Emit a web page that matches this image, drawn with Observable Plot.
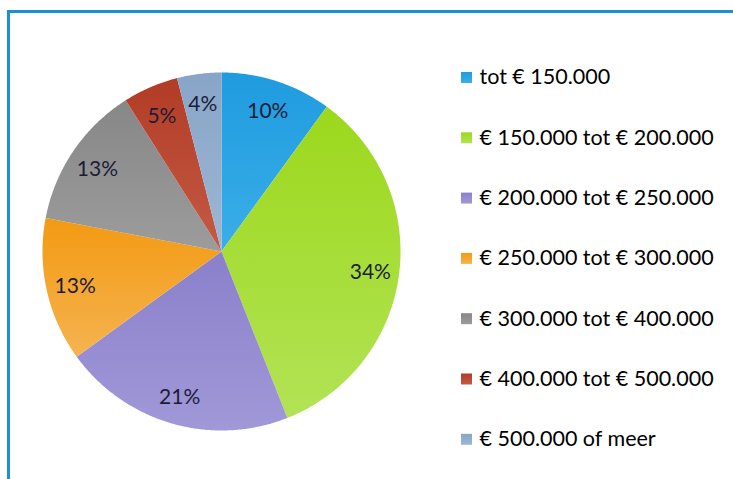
<!DOCTYPE html>
<html>
<head>
<meta charset="utf-8">
<script src="https://cdn.jsdelivr.net/npm/d3@7"></script>
<script src="https://cdn.jsdelivr.net/npm/@observablehq/plot@0.6"></script>
<style>
  html, body { margin: 0; padding: 0; background: #fff; overflow: hidden; }
  #wrap { position: relative; width: 733px; height: 479px; }
  #frame { position: absolute; left: 7px; top: 10px; width: 800px; height: 600px;
           border-left: 3px solid #1B8FD8; border-top: 3px solid #1B8FD8; box-sizing: border-box; pointer-events: none; }
  #chart { position: absolute; left: 0; top: 0; }
</style>
</head>
<body>
<div id="wrap"><div id="chart"></div><div id="frame"></div></div>
<script>
// ---- data ----
const categories = [
  "tot € 150.000",
  "€ 150.000 tot € 200.000",
  "€ 200.000 tot € 250.000",
  "€ 250.000 tot € 300.000",
  "€ 300.000 tot € 400.000",
  "€ 400.000 tot € 500.000",
  "€ 500.000 of meer"
];
const shares = [10, 34, 21, 13, 13, 5, 4];
const labels = ["10%", "34%", "21%", "13%", "13%", "5%", "4%"];
const topColors = ["#1F9BDF", "#9CD81C", "#8A80CB", "#F39A12", "#878787", "#B23C25", "#88A5C8"];
const bottomColors = ["#3AAEE8", "#B2E355", "#A198D8", "#F5B350", "#9C9C9C", "#C45A45", "#9DB6D3"];

// ---- layout ----
const W = 733, H = 479;
const cx = 221, cy = 251, R = 179, labelR = 150;
const legendX = 466, legendTextX = 479, legendY0 = 77, legendStep = 60.3;

const pie = d3.pie().sort(null).value(d => d.value)(categories.map((c, i) => ({name: c, value: shares[i], label: labels[i]})));

const wedgePts = [];
pie.forEach(p => {
  const n = Math.max(2, Math.ceil((p.endAngle - p.startAngle) / (Math.PI / 360)));
  wedgePts.push({name: p.data.name, x: cx, y: cy});
  for (let k = 0; k <= n; k++) {
    const a = p.startAngle + (p.endAngle - p.startAngle) * k / n;
    wedgePts.push({name: p.data.name, x: cx + R * Math.sin(a), y: cy - R * Math.cos(a)});
  }
  wedgePts.push({name: p.data.name, x: cx, y: cy});
});
const labelPts = pie.map(p => {
  const a = (p.startAngle + p.endAngle) / 2;
  return {label: p.data.label, x: cx + labelR * Math.sin(a), y: cy - labelR * Math.cos(a) + 2};
});
const legendRows = categories.map((c, i) => ({name: c, x: legendX, tx: legendTextX, y: legendY0 + i * legendStep}));

const gradIds = categories.map((c, i) => "grad" + i);

const chart = Plot.plot({
  width: W, height: H,
  marginTop: 0, marginRight: 0, marginBottom: 0, marginLeft: 0,
  x: {domain: [0, W], axis: null},
  y: {domain: [0, H], axis: null, reverse: true},
  color: {domain: categories, range: gradIds.map(id => `url(#${id})`)},
  style: {background: "transparent", overflow: "visible"},
  marks: [
    Plot.line(wedgePts, {x: "x", y: "y", z: "name", fill: "name", stroke: "none", curve: "linear"}),
    Plot.text(labelPts, {x: "x", y: "y", text: "label", fill: "#1C1C38", fontSize: 21, fontFamily: "Lato, sans-serif"}),
    Plot.dot(legendRows, {x: "x", y: "y", symbol: "square", r: 6.2, fill: "name", stroke: "none"}),
    Plot.text(legendRows, {x: "tx", y: "y", text: "name", textAnchor: "start", fill: "#000", fontSize: 21.5, fontFamily: "Lato, sans-serif"})
  ]
});

// gradients for the Excel-style shading
const ns = "http://www.w3.org/2000/svg";
const defs = document.createElementNS(ns, "defs");
gradIds.forEach((id, i) => {
  const g = document.createElementNS(ns, "linearGradient");
  g.setAttribute("id", id);
  g.setAttribute("x1", "0"); g.setAttribute("y1", "0");
  g.setAttribute("x2", "0"); g.setAttribute("y2", "1");
  [[0, topColors[i]], [1, bottomColors[i]]].forEach(([o, c]) => {
    const s = document.createElementNS(ns, "stop");
    s.setAttribute("offset", o); s.setAttribute("stop-color", c);
    g.appendChild(s);
  });
  defs.appendChild(g);
});
const svgEl = chart.tagName.toLowerCase() === "svg" ? chart : chart.querySelector("svg");
svgEl.insertBefore(defs, svgEl.firstChild);
document.getElementById("chart").appendChild(chart);
</script>
</body>
</html>
